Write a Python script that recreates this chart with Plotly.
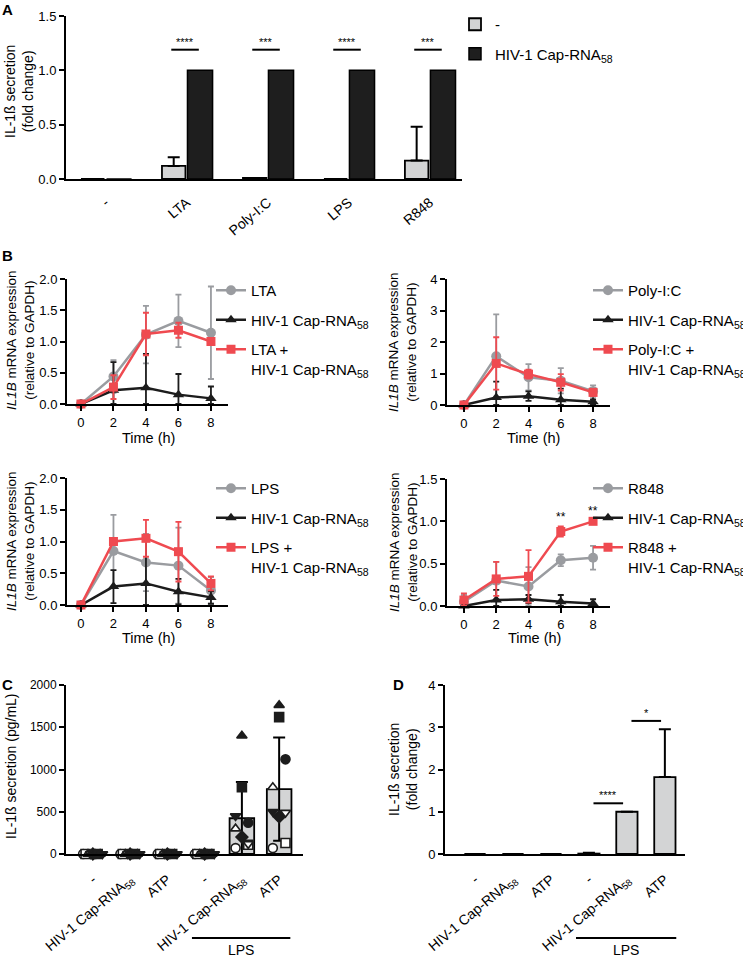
import numpy as np
import plotly.graph_objects as go

W, H = 743, 960
FONT = "Liberation Sans, Arial, Helvetica, sans-serif"
GRAY = "#9a9ca0"
BLACK = "#1c1c1c"
RED = "#ef4a50"
BARGRAY = "#d3d4d5"
BARBLACK = "#1e1e1e"

# ---------------- Panel A data ----------------
a_categories = ["-", "LTA", "Poly-I:C", "LPS", "R848"]
a_ctrl = [0.0, 0.12, 0.01, 0.0, 0.17]
a_ctrl_sd = [0.0, 0.08, 0.0, 0.0, 0.31]
a_hiv = [0.0, 1.0, 1.0, 1.0, 1.0]
a_sig = ["", "****", "***", "****", "***"]

# ---------------- Panel B data ----------------
b_time = [0, 2, 4, 6, 8]

lta_stim = [0.0, 0.44, 1.11, 1.33, 1.14]
lta_stim_sd = [0.0, 0.26, 0.46, 0.42, 0.74]
lta_hiv = [0.0, 0.22, 0.26, 0.15, 0.09]
lta_hiv_sd = [0.0, 0.45, 0.54, 0.33, 0.19]
lta_combo = [0.0, 0.27, 1.12, 1.18, 1.00]
lta_combo_sd = [0.0, 0.19, 0.34, 0.12, 0.05]

pic_stim = [0.0, 1.55, 0.88, 0.77, 0.44]
pic_stim_sd = [0.0, 1.33, 0.42, 0.40, 0.18]
pic_hiv = [0.0, 0.24, 0.28, 0.17, 0.10]
pic_hiv_sd = [0.0, 0.50, 0.15, 0.35, 0.08]
pic_combo = [0.0, 1.32, 0.98, 0.72, 0.40]
pic_combo_sd = [0.0, 0.83, 0.14, 0.26, 0.10]

lps_stim = [0.0, 0.85, 0.67, 0.62, 0.23]
lps_stim_sd = [0.0, 0.57, 0.45, 0.60, 0.21]
lps_hiv = [0.0, 0.29, 0.34, 0.21, 0.12]
lps_hiv_sd = [0.0, 0.26, 0.70, 0.20, 0.10]
lps_combo = [0.0, 1.00, 1.05, 0.84, 0.34]
lps_combo_sd = [0.0, 0.03, 0.29, 0.47, 0.11]

r848_stim = [0.05, 0.30, 0.23, 0.54, 0.57]
r848_stim_sd = [0.08, 0.22, 0.23, 0.07, 0.14]
r848_hiv = [0.0, 0.07, 0.08, 0.05, 0.03]
r848_hiv_sd = [0.0, 0.12, 0.05, 0.08, 0.05]
r848_combo = [0.07, 0.32, 0.35, 0.88, 1.00]
r848_combo_sd = [0.08, 0.20, 0.31, 0.06, 0.01]
r848_sig = ["", "", "", "**", "**"]

# ---------------- Panel C data (pg/mL, one value per donor) ----------------
c_categories = ["-", "HIV-1 Cap-RNA<sub>58</sub>", "ATP", "-", "HIV-1 Cap-RNA<sub>58</sub>", "ATP"]
c_none = [0, 0, 0, 0, 0, 0, 0, 0, 0]
c_hiv = [0, 0, 0, 0, 0, 0, 0, 0, 0]
c_atp = [0, 0, 0, 0, 0, 0, 0, 0, 0]
c_lps = [0, 0, 0, 0, 0, 0, 0, 0, 0]
c_lps_hiv = [70, 110, 300, 120, 200, 370, 790, 1400, 450]
c_lps_atp = [70, 130, 790, 490, 440, 1120, 1620, 1760, 500]

# ---------------- Panel D data ----------------
d_categories = c_categories
d_vals = [0.0, 0.0, 0.0, 0.01, 1.0, 1.82]
d_sd = [0.0, 0.0, 0.0, 0.02, 0.0, 1.13]
d_sig_pairs = [(3, 4, "****", 1.2), (4, 5, "*", 3.15)]

# ---------------- styles ----------------
donor_symbols = ["circle", "square", "triangle-up", "triangle-down", "diamond",
                 "circle", "square", "triangle-up", "triangle-down"]
donor_filled = [False, False, False, False, True, True, True, True, True]
donor_side = [-1, 1, -1, 1, 0, 1, 0, 0, -1]


def nz(v):
    return [x if x > 0 else None for x in v]


def ax(**kw):
    d = dict(showline=True, linecolor="black", linewidth=2, showgrid=False,
             zeroline=False, ticks="outside", ticklen=5, tickwidth=2,
             tickcolor="black", fixedrange=True, automargin=False,
             tickfont=dict(family=FONT, size=13, color="black"))
    d.update(kw)
    return d


def dx(a, b):
    return [a / W, b / W]


def dy(top, bottom):
    return [1 - bottom / H, 1 - top / H]


fig = go.Figure()
annotations = []
shapes = []

# ---------------- Panel A ----------------
ax_idx = list(range(len(a_categories)))
fig.add_trace(go.Bar(
    x=ax_idx, y=a_ctrl, width=0.29, offset=-0.305, name="-",
    marker=dict(color=BARGRAY, line=dict(color="black", width=1.8)),
    error_y=dict(type="data", array=nz(a_ctrl_sd), arrayminus=[0] * 5, symmetric=False,
                 color="black", thickness=2, width=6),
    xaxis="x", yaxis="y", legend="legend", legendgroup="a1"))
fig.add_trace(go.Bar(
    x=ax_idx, y=a_hiv, width=0.31, offset=0.01, name="HIV-1 Cap-RNA<sub>58</sub>",
    marker=dict(color=BARBLACK, line=dict(color="black", width=1.5)),
    xaxis="x", yaxis="y", legend="legend", legendgroup="a2"))
for i, s in enumerate(a_sig):
    if s:
        top = 1.19
        shapes.append(dict(type="line", xref="x", yref="y", x0=i - 0.19, x1=i + 0.15,
                           y0=top, y1=top, line=dict(color="black", width=2)))
        annotations.append(dict(text=s, xref="x", yref="y", x=i - 0.02, y=top,
                                yanchor="bottom", showarrow=False,
                                font=dict(size=11, color="black", family=FONT)))

# ---------------- Panel B ----------------
b_panels = [
    ("x2", "y2", "legend2", "LTA", lta_stim, lta_stim_sd, lta_hiv, lta_hiv_sd, lta_combo, lta_combo_sd, None),
    ("x3", "y3", "legend3", "Poly-I:C", pic_stim, pic_stim_sd, pic_hiv, pic_hiv_sd, pic_combo, pic_combo_sd, None),
    ("x4", "y4", "legend4", "LPS", lps_stim, lps_stim_sd, lps_hiv, lps_hiv_sd, lps_combo, lps_combo_sd, None),
    ("x5", "y5", "legend5", "R848", r848_stim, r848_stim_sd, r848_hiv, r848_hiv_sd, r848_combo, r848_combo_sd, r848_sig),
]
for (xa, ya, lg, nm, s, ssd, h, hsd, c, csd, sig) in b_panels:
    series = [
        (nm, s, ssd, GRAY, "circle", 10),
        ("HIV-1 Cap-RNA<sub>58</sub>", h, hsd, BLACK, "triangle-up", 10),
        (nm + " +<br>HIV-1 Cap-RNA<sub>58</sub>", c, csd, RED, "square", 9),
    ]
    for k, (name, m, sd, col, sym, size) in enumerate(series):
        minus = [min(e, v) if e > 0 else None for e, v in zip(sd, m)]
        fig.add_trace(go.Scatter(
            x=b_time, y=m, mode="lines+markers", name=name,
            line=dict(color=col, width=2.5),
            marker=dict(symbol=sym, size=size, color=col),
            error_y=dict(type="data", array=nz(sd), arrayminus=minus, symmetric=False,
                         color=col, thickness=1.8, width=3),
            cliponaxis=False, xaxis=xa, yaxis=ya, legend=lg,
            legendgroup=f"{lg}_{k}"))
    if sig:
        for t, m, e, st in zip(b_time, c, csd, sig):
            if st:
                annotations.append(dict(text=st, xref=xa, yref=ya, x=t, y=m + e + 0.01,
                                        yanchor="bottom", showarrow=False,
                                        font=dict(size=12, color="black", family=FONT)))

# ---------------- Panel C ----------------
c_groups = [c_none, c_hiv, c_atp, c_lps, c_lps_hiv, c_lps_atp]
c_arr = np.array(c_groups, dtype=float)
c_mean = c_arr.mean(axis=1)
c_std = c_arr.std(axis=1, ddof=1)
fig.add_trace(go.Bar(
    x=list(range(6)), y=c_mean, width=0.66,
    marker=dict(color=BARGRAY, line=dict(color="black", width=1.8)),
    error_y=dict(type="data", array=nz(list(c_std)), color="black", thickness=2, width=6),
    xaxis="x6", yaxis="y6", showlegend=False))
n_donor = c_arr.shape[1]
spread = np.linspace(-0.26, 0.26, n_donor)
for j in range(n_donor):
    xs = []
    for g in range(6):
        if c_mean[g] > 0:
            xs.append(g + 0.17 * donor_side[j])
        else:
            xs.append(g + spread[j])
    fill = BLACK if donor_filled[j] else "white"
    fig.add_trace(go.Scatter(
        x=xs, y=c_arr[:, j], mode="markers",
        marker=dict(symbol=donor_symbols[j], size=9, color=fill,
                    line=dict(color=BLACK, width=1.6)),
        cliponaxis=False, xaxis="x6", yaxis="y6", showlegend=False))

# ---------------- Panel D ----------------
fig.add_trace(go.Bar(
    x=list(range(6)), y=d_vals, width=0.56,
    marker=dict(color=BARGRAY, line=dict(color="black", width=1.8)),
    error_y=dict(type="data", array=nz(d_sd), arrayminus=[0] * 6, symmetric=False,
                 color="black", thickness=2, width=6),
    xaxis="x7", yaxis="y7", showlegend=False))
for (i0, i1, st, yy) in d_sig_pairs:
    shapes.append(dict(type="line", xref="x7", yref="y7", x0=i0 + 0.12, x1=i1 - 0.1,
                       y0=yy, y1=yy, line=dict(color="black", width=2)))
    annotations.append(dict(text=st, xref="x7", yref="y7", x=(i0 + i1) / 2 + 0.01, y=yy,
                            yanchor="bottom", showarrow=False,
                            font=dict(size=11, color="black", family=FONT)))

# LPS brackets
for xa in ("x6", "x7"):
    shapes.append(dict(type="line", xref=xa, yref="paper", x0=2.66, x1=5.3,
                       y0=1 - 938 / H, y1=1 - 938 / H, line=dict(color="black", width=2)))
    annotations.append(dict(text="LPS", xref=xa, yref="paper", x=3.98, y=1 - 950 / H,
                            xanchor="center", yanchor="middle", showarrow=False,
                            font=dict(size=14, color="black", family=FONT)))

# ---------------- text labels ----------------
def txt(s, x, y, size=14, angle=0, bold=False):
    annotations.append(dict(text=f"<b>{s}</b>" if bold else s, xref="paper", yref="paper",
                            x=x / W, y=1 - y / H, xanchor="center", yanchor="middle",
                            textangle=angle, showarrow=False,
                            font=dict(size=size, color="black", family=FONT)))

txt("A", 7, 10, 15, bold=True)
txt("B", 7, 256, 15, bold=True)
txt("C", 7, 684, 15, bold=True)
txt("D", 398, 684, 15, bold=True)

txt("IL-1ß secretion<br>(fold change)", 19, 92, 14, -90)
ytb = "<i>IL1B</i> mRNA expression<br>(relative to GAPDH)"
txt(ytb, 20, 340, 13.5, -90)
txt(ytb, 403, 342, 13.5, -90)
txt(ytb, 20, 541, 13.5, -90)
txt(ytb, 403, 542, 13.5, -90)
txt("Time (h)", 148, 438, 14.5)
txt("Time (h)", 533, 438, 14.5)
txt("Time (h)", 148, 638, 14.5)
txt("Time (h)", 534, 638, 14.5)
txt("IL-1ß secretion (pg/mL)", 11, 766, 14, -90)
txt("IL-1ß secretion<br>(fold change)", 403, 770, 14, -90)

# ---------------- layout ----------------
b_xrange = [-0.86, 9.05]
b2_xrange = [-1.05, 9.05]
leg_common = dict(xanchor="left", yanchor="top", bgcolor="rgba(0,0,0,0)",
                  font=dict(size=15, color="black", family=FONT),
                  tracegroupgap=7, valign="top", itemclick=False, itemdoubleclick=False)

fig.update_layout(
    template="none",
    width=W, height=H, margin=dict(l=0, r=0, t=0, b=0, pad=0, autoexpand=False),
    paper_bgcolor="white", plot_bgcolor="white",
    font=dict(family=FONT, color="black"),
    showlegend=True,
    xaxis=ax(domain=dx(66, 462), anchor="y", range=[-0.49, 4.4],
             tickvals=ax_idx, ticktext=a_categories, tickangle=-40, ticks="",
             ticklabelstandoff=8, tickfont=dict(family=FONT, size=14, color="black")),
    yaxis=ax(domain=dy(16, 179), anchor="x", range=[0, 1.5],
             tickvals=[0, 0.5, 1.0, 1.5], tickformat=".1f"),
    xaxis2=ax(domain=dx(67, 228), anchor="y2", range=b_xrange, tickvals=b_time),
    yaxis2=ax(domain=dy(279, 404), anchor="x2", range=[0, 2], dtick=0.5, tickformat=".1f"),
    xaxis3=ax(domain=dx(447, 610), anchor="y3", range=b2_xrange, tickvals=b_time),
    yaxis3=ax(domain=dy(279, 405), anchor="x3", range=[0, 4], dtick=1),
    xaxis4=ax(domain=dx(67, 228), anchor="y4", range=b_xrange, tickvals=b_time),
    yaxis4=ax(domain=dy(478, 605), anchor="x4", range=[0, 2], dtick=0.5, tickformat=".1f"),
    xaxis5=ax(domain=dx(447, 610), anchor="y5", range=b2_xrange, tickvals=b_time),
    yaxis5=ax(domain=dy(479, 606), anchor="x5", range=[0, 1.5], dtick=0.5, tickformat=".1f"),
    xaxis6=ax(domain=dx(66, 303), anchor="y6", range=[-0.72, 5.64],
              tickvals=list(range(6)), ticktext=c_categories, tickangle=-40, ticks="",
              ticklabelstandoff=10, tickfont=dict(family=FONT, size=14, color="black")),
    yaxis6=ax(domain=dy(685, 854), anchor="x6", range=[0, 2000],
              tickvals=[0, 500, 1000, 1500, 2000],
              tickfont=dict(family=FONT, size=12, color="black")),
    xaxis7=ax(domain=dx(445, 685), anchor="y7", range=[-0.79, 5.53],
              tickvals=list(range(6)), ticktext=d_categories, tickangle=-40, ticks="",
              ticklabelstandoff=10, tickfont=dict(family=FONT, size=14, color="black")),
    yaxis7=ax(domain=dy(685, 854), anchor="x7", range=[0, 4], tickvals=[0, 1, 2, 3, 4]),
    legend=dict(x=455 / W, y=1 - 8 / H, **leg_common),
    legend2=dict(x=211 / W, y=1 - 274 / H, **leg_common),
    legend3=dict(x=588 / W, y=1 - 274 / H, **leg_common),
    legend4=dict(x=211 / W, y=1 - 472 / H, **leg_common),
    legend5=dict(x=588 / W, y=1 - 472 / H, **leg_common),
    annotations=annotations,
    shapes=shapes,
)

fig.write_html("out.html", config={"displayModeBar": False},
               post_script="document.body.style.margin='0';document.body.style.padding='0';")
